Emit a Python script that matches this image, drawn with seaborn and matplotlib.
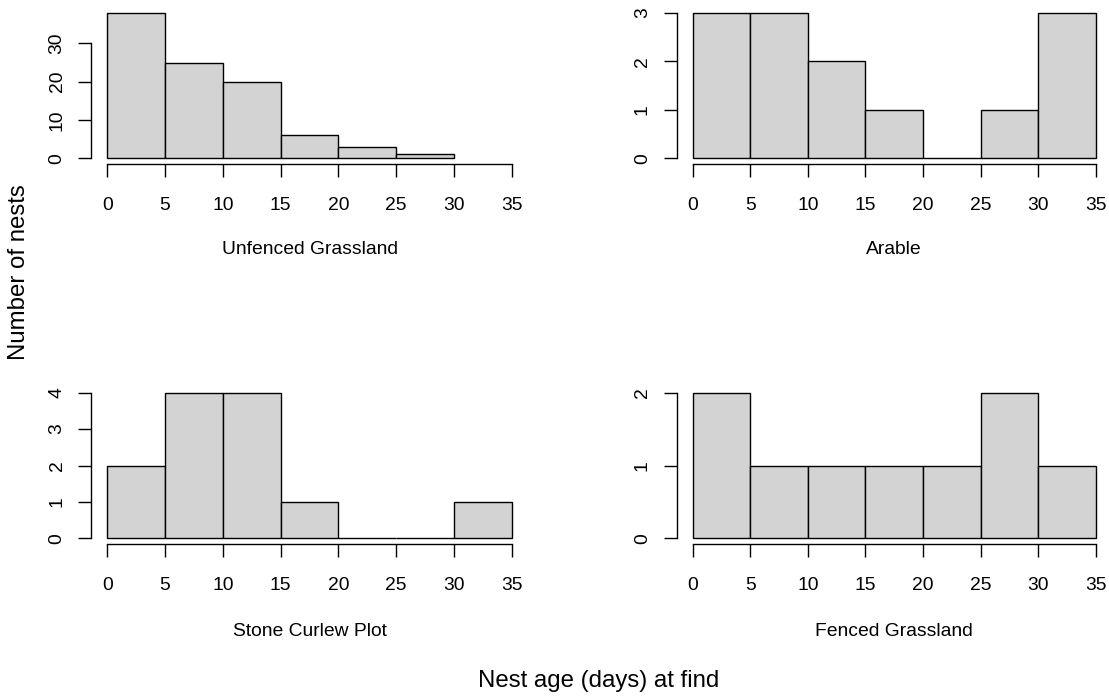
import numpy as np
import matplotlib
matplotlib.use("Agg")
import matplotlib.pyplot as plt
import seaborn as sns

sns.set_style("white")
plt.rcParams['font.family'] = ['Liberation Sans', 'DejaVu Sans']

# ---- data (counts per 5-day bin) ----
unfenced_edges = [0, 5, 10, 15, 20, 25, 30]
unfenced_counts = [38, 25, 20, 6, 3, 1]

arable_edges = [0, 5, 10, 15, 20, 25, 30, 35]
arable_counts = [3, 3, 2, 1, 0, 1, 3]

stone_edges = [0, 5, 10, 15, 20, 25, 30, 35]
stone_counts = [2, 4, 4, 1, 0, 0, 1]

fenced_edges = [0, 5, 10, 15, 20, 25, 30, 35]
fenced_counts = [2, 1, 1, 1, 1, 2, 1]

titles = ["Unfenced Grassland", "Arable", "Stone Curlew Plot", "Fenced Grassland"]
x_ticks = [0, 5, 10, 15, 20, 25, 30, 35]
y_ticks_list = [[0, 10, 20, 30], [0, 1, 2, 3], [0, 1, 2, 3, 4], [0, 1, 2]]

W, H = 1109, 698
fig = plt.figure(figsize=(W / 100, H / 100), dpi=100)

# plot-region pixel boxes (left, right, top, bottom)
boxes = [(91.1, 527.9, 6.9, 164.1),
         (676.5, 1112.0, 6.9, 164.1),
         (91.1, 527.9, 386.9, 544.1),
         (676.5, 1112.0, 386.9, 544.1)]
label_offsets = [90, 90, 92, 92]

panels = [(unfenced_edges, unfenced_counts),
          (arable_edges, arable_counts),
          (stone_edges, stone_counts),
          (fenced_edges, fenced_counts)]

inner_fs = 13.9
outer_fs = 17.3

for i, ((edges, counts), box, title, yt, off) in enumerate(
        zip(panels, boxes, titles, y_ticks_list, label_offsets)):
    l, r, t, b = box
    ax = fig.add_axes([l / W, 1 - b / H, (r - l) / W, (b - t) / H])
    edges_a = np.array(edges, dtype=float)
    centers = (edges_a[:-1] + edges_a[1:]) / 2
    sns.histplot(x=centers, weights=counts, bins=edges, ax=ax,
                 color="#D3D3D3", edgecolor="black", linewidth=1.0, alpha=1.0)
    ymax = max(counts)
    ax.set_xlim(-0.04 * 35, 35 * 1.04)
    ax.set_ylim(-0.04 * ymax, ymax * 1.04)
    ax.set_xlabel("")
    ax.set_ylabel("")
    ax.set_xticks(x_ticks)
    ax.set_yticks(yt)
    for s in ["top", "right"]:
        ax.spines[s].set_visible(False)
    ax.spines["left"].set_bounds(yt[0], yt[-1])
    ax.spines["bottom"].set_bounds(0, 35)
    for s in ["left", "bottom"]:
        ax.spines[s].set_color("black")
        ax.spines[s].set_linewidth(1.0)
    ax.tick_params(axis="both", direction="out", length=9.4, width=1.0,
                   color="black", labelsize=inner_fs, labelcolor="black",
                   bottom=True, left=True)
    ax.tick_params(axis="x", pad=14.0)
    ax.tick_params(axis="y", pad=9.0)
    for lab in ax.get_yticklabels():
        lab.set_rotation(90)
        lab.set_va("center")
        lab.set_ha("right")
    ax.patch.set_alpha(0)
    # panel label under the x axis
    cx = (l + r) / 2
    fig.text(cx / W, 1 - (b + off) / H, title, ha="center", va="baseline",
             fontsize=inner_fs, color="black")

fig.text(598.3 / W, 1 - 687 / H, "Nest age (days) at find", ha="center",
         va="baseline", fontsize=outer_fs, color="black")
fig.text(19 / W, 1 - 272 / H, "Number of nests", ha="center", va="center",
         rotation=90, fontsize=outer_fs, color="black")

fig.savefig("out.png", dpi=100, facecolor="white")
